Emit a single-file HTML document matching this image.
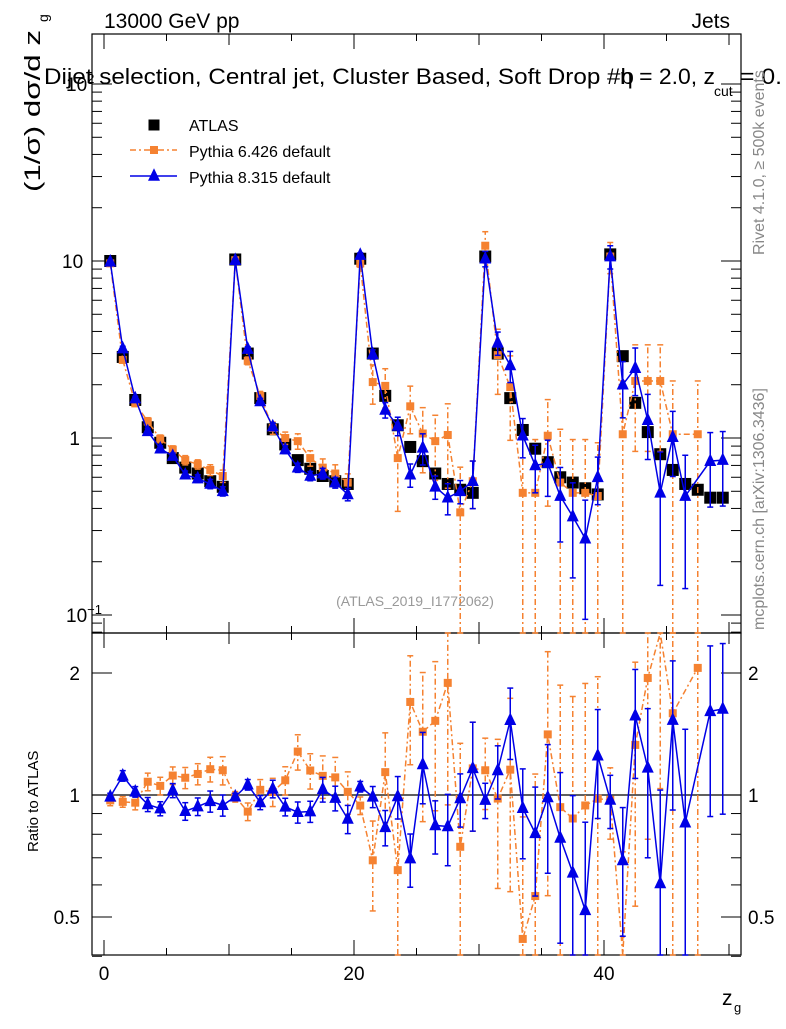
<!DOCTYPE html>
<html><head><meta charset="utf-8"><style>
body{margin:0;background:#fff;}
svg text{font-family:"Liberation Sans",Arial,sans-serif;}
</style></head><body>
<svg id="c" width="786" height="1024" xmlns="http://www.w3.org/2000/svg"></svg>
<script>
const bins=[0.5,1.5,2.5,3.5,4.5,5.5,6.5,7.5,8.5,9.5,10.5,11.5,12.5,13.5,14.5,15.5,16.5,17.5,18.5,19.5,20.5,21.5,22.5,23.5,24.5,25.5,26.5,27.5,28.5,29.5,30.5,31.5,32.5,33.5,34.5,35.5,36.5,37.5,38.5,39.5,40.5,41.5,42.5,43.5,44.5,45.5,46.5,47.5,48.5,49.5];
const atlas=[10,2.87,1.64,1.15,0.94,0.77,0.68,0.63,0.57,0.53,10.2,3.0,1.68,1.12,0.92,0.75,0.67,0.61,0.57,0.55,10.3,3.0,1.73,1.18,0.89,0.74,0.63,0.55,0.51,0.49,10.6,3.0,1.68,1.11,0.87,0.73,0.6,0.56,0.52,0.48,10.9,2.9,1.58,1.08,0.81,0.66,0.55,0.51,0.46,0.46];
const py6=[9.7,2.76,1.57,1.24,0.99,0.86,0.75,0.71,0.66,0.61,10.1,2.73,1.73,1.14,1.0,0.96,0.77,0.68,0.63,0.56,9.7,2.07,1.97,0.77,1.51,1.06,0.96,1.04,0.38,0.57,12.2,2.94,1.94,0.49,0.49,1.03,0.56,0.49,0.49,0.47,10.6,1.05,2.1,2.1,2.1,1.05,null,1.05,null,null];
const py6err=[0.03,0.03,0.04,0.05,0.05,0.05,0.06,0.06,0.07,0.08,0.03,0.05,0.06,0.08,0.08,0.1,0.1,0.12,0.12,0.12,0.05,0.25,0.25,0.5,0.3,0.4,0.4,0.5,0.8,0.3,0.2,0.4,0.5,1,1,0.6,1,1,1,1,0.2,1,0.6,0.6,0.6,1,0,1,0,0];
const py8=[9.9,3.2,1.67,1.09,0.87,0.79,0.62,0.59,0.55,0.5,10.1,3.18,1.61,1.16,0.86,0.68,0.61,0.63,0.56,0.48,10.8,2.97,1.44,1.17,0.62,0.88,0.53,0.46,0.5,0.57,10.3,3.45,2.57,1.03,0.7,0.72,0.47,0.36,0.27,0.6,10.6,2.0,2.48,1.26,0.49,1.01,0.47,null,0.74,0.75];
const py8err=[0.02,0.03,0.03,0.04,0.04,0.04,0.05,0.05,0.06,0.06,0.02,0.03,0.04,0.05,0.05,0.06,0.06,0.07,0.07,0.08,0.03,0.06,0.1,0.12,0.15,0.2,0.15,0.2,0.15,0.3,0.1,0.15,0.2,0.25,0.3,0.35,0.45,0.55,0.65,0.3,0.15,0.35,0.3,0.4,0.7,0.4,0.7,0,0.45,0.45];
const xTicks=[0,20,40];
const ratioTicks=[0.5,1,2];

const svg=document.getElementById('c');const NS='http://www.w3.org/2000/svg';
function el(t,a,p){const e=document.createElementNS(NS,t);for(const k in a)e.setAttribute(k,a[k]);(p||svg).appendChild(e);return e;}
const L=92,R=741,T=34,M=633,B=955;
const X=v=>104+(v)*12.5;
const Y=v=>438-Math.log10(v)*177;
const YR=r=>795-Math.log2(r)*122;
const clampY=(y,a,b)=>Math.max(a,Math.min(b,y));

let f=el('rect',{x:L,y:T,width:R-L,height:M-T,fill:'none',stroke:'#000','stroke-width':1.2});

f=el('rect',{x:L,y:M,width:R-L,height:B-M,fill:'none',stroke:'#000','stroke-width':1.2});


for(let v=0;v<=50;v+=5){const x=X(v);const len=v%20==0?15:(v%10==0?11:7);
 for(const [y0,d] of [[T,1],[M,-1],[M,1],[B,-1]]) el('line',{x1:x,x2:x,y1:y0,y2:y0+d*len,stroke:'#000'});}
xTicks.forEach(v=>{const t=el('text',{x:X(v),y:980,'font-size':19,'text-anchor':'middle'});t.textContent=v;
 });
for(let d=-2;d<=2;d++)for(let m=1;m<10;m++){const v=m*Math.pow(10,d);const y=Y(v);if(y<T||y>M)continue;
 const len=m==1?20:10;el('line',{x1:L,x2:L+len,y1:y,y2:y,stroke:'#000'});el('line',{x1:R,x2:R-len,y1:y,y2:y,stroke:'#000'});}
[['10',-1,'−1'],['1',0,''],['10',1,''],['10',2,'2']].forEach(([b,d,s])=>{const t=el('text',{x:d==0?80:(s?66:62),y:Y(Math.pow(10,d))+7,'font-size':19,'text-anchor':d==0?'end':'start'});
 t.textContent=d==0?'1':b;if(s){const ts=el('tspan',{dy:-8,'font-size':13},t);ts.textContent=s;}
 });
[0.4,0.5,0.6,0.7,0.8,0.9,1,2].forEach(v=>{const y=YR(v);const len=(v==0.5||v==1||v==2)?20:10;
 el('line',{x1:L,x2:L+len,y1:y,y2:y,stroke:'#000'});el('line',{x1:R,x2:R-len,y1:y,y2:y,stroke:'#000'});});
ratioTicks.forEach(v=>{for(const [x,a] of [[80,'end'],[748,'start']]){const t=el('text',{x:x,y:YR(v)+7,'font-size':19,'text-anchor':a});t.textContent=v;
 }});
el('line',{x1:L,x2:R,y1:YR(1),y2:YR(1),stroke:'#000','stroke-width':1.2});

function sq(x,y,s,c,g){el('rect',{x:x-s/2,y:y-s/2,width:s,height:s,fill:c},g);}
function tri(x,y,s,c,g){el('polygon',{points:`${x},${y-s*0.65} ${x-s/2},${y+s*0.4} ${x+s/2},${y+s*0.4}`,fill:c},g);}

let g=el('g',{});
function series(vals,errs,col,dash,mk,name){
 const gg=el('g',{});
 const rg=el('g',{});
 let pts=[],rpts=[];
 vals.forEach((v,i)=>{if(v==null){return;}const x=X(bins[i]);const e=errs[i];
  const yl=clampY(Y(Math.max(v*(1-e),1e-3)),T,M),yh=clampY(Y(v*(1+e)),T,M);
  el('line',{x1:x,x2:x,y1:yl,y2:yh,stroke:col,'stroke-width':1.5,'stroke-dasharray':dash},gg);
  el('line',{x1:x-3,x2:x+3,y1:yl,y2:yl,stroke:col,'stroke-width':1.5},gg);el('line',{x1:x-3,x2:x+3,y1:yh,y2:yh,stroke:col,'stroke-width':1.5},gg);
  pts.push([x,Y(v)]);
  const r=v/atlas[i];const ry=YR(r);
  const rl=clampY(YR(Math.max(r*(1-e),1e-3)),M,B),rh=clampY(YR(r*(1+e)),M,B);
  if(rl>M&&rh<B){el('line',{x1:x,x2:x,y1:rl,y2:rh,stroke:col,'stroke-width':1.5,'stroke-dasharray':dash},rg);
  el('line',{x1:x-3,x2:x+3,y1:rl,y2:rl,stroke:col,'stroke-width':1.5},rg);el('line',{x1:x-3,x2:x+3,y1:rh,y2:rh,stroke:col,'stroke-width':1.5},rg);}
  rpts.push([x,clampY(ry,M,B),ry>=M&&ry<=B]);
 });
 el('polyline',{points:pts.map(p=>p.join(',')).join(' '),fill:'none',stroke:col,'stroke-width':1.5,'stroke-dasharray':dash},gg);
 el('polyline',{points:rpts.map(p=>p[0]+','+p[1]).join(' '),fill:'none',stroke:col,'stroke-width':1.5,'stroke-dasharray':dash},rg);
 pts.forEach(p=>mk(p[0],p[1],mk==sq?8:12,col,gg));
 rpts.forEach(p=>{if(p[2])mk(p[0],p[1],mk==sq?8:12,col,rg);});
}
atlas.forEach((v,i)=>sq(X(bins[i]),Y(v),12,'#000',g));
series(py6,py6err,'#f58231','6,3,2,3',sq,'pythia6-series');
series(py8,py8err,'#0000e6','',tri,'pythia8-series');

function txt(s,a,name){const t=el('text',a);t.textContent=s;return t;}
txt('13000 GeV pp',{x:104,y:28,'font-size':21},'energy-label');
txt('Jets',{x:730,y:28,'font-size':21,'text-anchor':'end'},'process-label');
txt('Dijet selection, Central jet, Cluster Based, Soft Drop #b',{x:44,y:84,'font-size':22,textLength:590,lengthAdjust:'spacingAndGlyphs'},'plot-title');
txt('η = 2.0, z',{x:620,y:84,'font-size':22,textLength:95,lengthAdjust:'spacingAndGlyphs'},'plot-title-2');
txt('cut',{x:714,y:96,'font-size':14},'title-subscript');
txt('= 0.',{x:740,y:84,'font-size':22,textLength:42,lengthAdjust:'spacingAndGlyphs'},'title-end');
txt('(1/σ) dσ/d z',{x:0,y:0,'font-size':22,textLength:162,lengthAdjust:'spacingAndGlyphs',transform:'translate(40,192) rotate(-90)'},'y-axis-title');
txt('g',{x:0,y:0,'font-size':14,transform:'translate(48,22) rotate(-90)'},'y-axis-title-sub');
txt('Ratio to ATLAS',{x:0,y:0,'font-size':15,transform:'translate(38,852) rotate(-90)'},'ratio-axis-title');
txt('z',{x:722,y:1005,'font-size':21},'x-axis-title');
txt('g',{x:734,y:1012,'font-size':13},'x-axis-title-sub');
txt('Rivet 4.1.0, ≥ 500k events',{x:0,y:0,'font-size':16,fill:'#888',transform:'translate(764,255) rotate(-90)'},'rivet-label');
txt('mcplots.cern.ch [arXiv:1306.3436]',{x:0,y:0,'font-size':16,fill:'#888',transform:'translate(764,630) rotate(-90)'},'mcplots-label');
txt('(ATLAS_2019_I1772062)',{x:415,y:606,'font-size':14,fill:'#999','text-anchor':'middle'},'analysis-id');
const lg=el('g',{});
sq(154,125,11,'#000',lg);
el('line',{x1:130,x2:177,y1:150,y2:150,stroke:'#f58231','stroke-width':1.5,'stroke-dasharray':'6,3,2,3'},lg);sq(154,150,8,'#f58231',lg);
el('line',{x1:130,x2:177,y1:176,y2:176,stroke:'#0000e6','stroke-width':1.5},lg);tri(154,176,12,'#0000e6',lg);
[['ATLAS',131],['Pythia 6.426 default',157],['Pythia 8.315 default',183]].forEach(([s,y])=>{const t=el('text',{x:189,y:y,'font-size':16},lg);t.textContent=s;
 });
</script>
</body></html>
